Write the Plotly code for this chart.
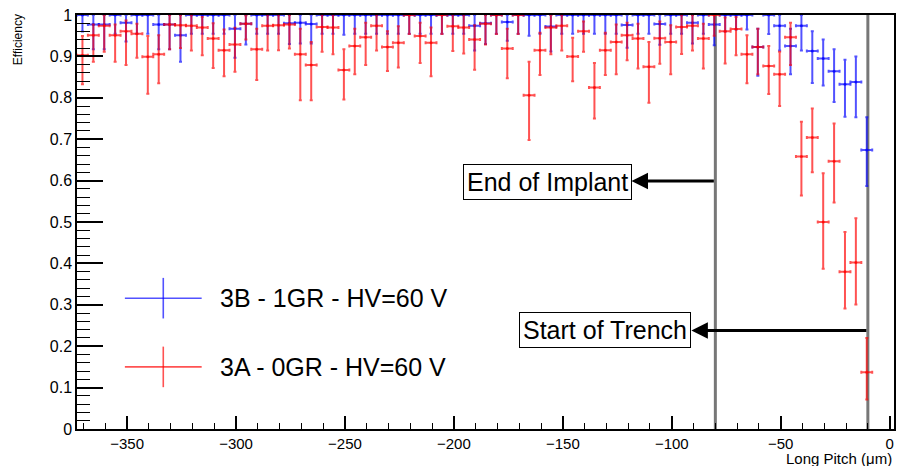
import plotly.graph_objects as go

# ---------------- data ----------------
bin_centers = [-370.5, -365.5, -360.5, -355.5, -350.5, -345.5, -340.5, -335.5, -330.5, -325.5,
               -320.5, -315.5, -310.5, -305.5, -300.5, -295.5, -290.5, -285.5, -280.5, -275.5,
               -270.5, -265.5, -260.5, -255.5, -250.5, -245.5, -240.5, -235.5, -230.5, -225.5,
               -220.5, -215.5, -210.5, -205.5, -200.5, -195.5, -190.5, -185.5, -180.5, -175.5,
               -170.5, -165.5, -160.5, -155.5, -150.5, -145.5, -140.5, -135.5, -130.5, -125.5,
               -120.5, -115.5, -110.5, -105.5, -100.5, -95.5, -90.5, -85.5, -80.5, -75.5,
               -70.5, -65.5, -60.5, -55.5, -50.5, -45.5, -40.5, -35.5, -30.5, -25.5,
               -20.5, -15.5, -10.5]
bin_half_width = 2.5

eff_3B = [1.0, 0.977, 0.977, 1.0, 0.981, 1.0, 1.0, 0.977, 0.977, 0.951,
          1.0, 1.0, 1.0, 1.0, 0.967, 0.979, 1.0, 1.0, 1.0, 0.98,
          0.981, 0.978, 1.0, 1.0, 1.0, 1.0, 1.0, 1.0, 1.0, 1.0,
          1.0, 1.0, 1.0, 1.0, 1.0, 1.0, 0.974, 0.98, 1.0, 0.983,
          1.0, 1.0, 1.0, 0.972, 1.0, 1.0, 1.0, 1.0, 1.0, 1.0,
          0.976, 1.0, 1.0, 0.978, 1.0, 1.0, 0.981, 1.0, 0.977, 1.0,
          1.0, 1.0, 0.923, 1.0, 0.974, 0.925, 0.974, 0.913, 0.895, 0.864,
          0.833, 0.838, 0.674]
err_up_3B = [0.0, 0.023, 0.023, 0.0, 0.019, 0.0, 0.0, 0.023, 0.023, 0.049,
             0.0, 0.0, 0.0, 0.0, 0.033, 0.021, 0.0, 0.0, 0.0, 0.02,
             0.019, 0.022, 0.0, 0.0, 0.0, 0.0, 0.0, 0.0, 0.0, 0.0,
             0.0, 0.0, 0.0, 0.0, 0.0, 0.0, 0.026, 0.02, 0.0, 0.017,
             0.0, 0.0, 0.0, 0.028, 0.0, 0.0, 0.0, 0.0, 0.0, 0.0,
             0.024, 0.0, 0.0, 0.022, 0.0, 0.0, 0.019, 0.0, 0.023, 0.0,
             0.0, 0.0, 0.044, 0.0, 0.026, 0.042, 0.026, 0.048, 0.046, 0.053,
             0.059, 0.062, 0.079]
err_dn_3B = [0.04, 0.06, 0.06, 0.045, 0.045, 0.045, 0.045, 0.06, 0.06, 0.064,
             0.045, 0.045, 0.045, 0.045, 0.07, 0.05, 0.045, 0.045, 0.045, 0.05,
             0.05, 0.047, 0.045, 0.045, 0.048, 0.045, 0.045, 0.045, 0.045, 0.045,
             0.045, 0.045, 0.045, 0.045, 0.045, 0.045, 0.06, 0.05, 0.045, 0.045,
             0.045, 0.05, 0.045, 0.06, 0.045, 0.045, 0.045, 0.045, 0.045, 0.045,
             0.055, 0.045, 0.045, 0.05, 0.045, 0.045, 0.05, 0.045, 0.05, 0.04,
             0.035, 0.035, 0.07, 0.046, 0.06, 0.068, 0.06, 0.077, 0.065, 0.074,
             0.079, 0.085, 0.087]

eff_3A = [0.903, 0.951, 0.974, 0.951, 0.961, 0.955, 0.899, 0.905, 0.977, 0.975,
          0.974, 0.970, 0.943, 0.915, 0.929, 0.979, 0.917, 0.974, 0.975, 0.977,
          0.905, 0.879, 0.971, 0.970, 0.867, 0.925, 0.946, 0.974, 0.923, 0.933,
          1.0, 0.949, 0.933, 1.0, 0.973, 0.970, 0.941, 0.979, 1.0, 0.919,
          1.0, 0.806, 0.915, 0.970, 0.974, 0.900, 0.961, 0.825, 0.915, 0.935,
          0.951, 0.943, 0.875, 0.944, 0.935, 0.971, 0.974, 0.943, 1.0, 0.961,
          0.966, 0.905, 0.923, 0.877, 0.857, 0.946, 0.658, 0.704, 0.500, 0.647,
          0.380, 0.402, 0.137]
err_up_3A = [0.046, 0.026, 0.026, 0.026, 0.026, 0.024, 0.05, 0.046, 0.023, 0.025,
             0.026, 0.025, 0.037, 0.05, 0.04, 0.02, 0.05, 0.026, 0.025, 0.023,
             0.062, 0.056, 0.029, 0.03, 0.05, 0.042, 0.035, 0.026, 0.038, 0.04,
             0.0, 0.032, 0.037, 0.0, 0.027, 0.03, 0.034, 0.021, 0.0, 0.048,
             0.0, 0.081, 0.042, 0.03, 0.026, 0.045, 0.023, 0.059, 0.042, 0.042,
             0.03, 0.036, 0.06, 0.04, 0.04, 0.029, 0.026, 0.036, 0.0, 0.033,
             0.029, 0.046, 0.044, 0.048, 0.054, 0.035, 0.084, 0.07, 0.118, 0.091,
             0.096, 0.107, 0.083]
err_dn_3A = [0.07, 0.064, 0.063, 0.064, 0.082, 0.058, 0.089, 0.07, 0.06, 0.055,
             0.06, 0.067, 0.071, 0.063, 0.066, 0.038, 0.074, 0.06, 0.06, 0.058,
             0.111, 0.085, 0.06, 0.065, 0.071, 0.068, 0.067, 0.06, 0.058, 0.06,
             0.046, 0.065, 0.081, 0.046, 0.06, 0.063, 0.073, 0.05, 0.046, 0.072,
             0.046, 0.108, 0.06, 0.065, 0.06, 0.06, 0.05, 0.075, 0.06, 0.078,
             0.06, 0.072, 0.087, 0.062, 0.078, 0.065, 0.06, 0.072, 0.05, 0.078,
             0.063, 0.07, 0.066, 0.068, 0.077, 0.067, 0.094, 0.084, 0.113, 0.10,
             0.089, 0.101, 0.066]

legend_labels = ["3B - 1GR - HV=60 V", "3A - 0GR - HV=60 V"]
end_of_implant_x = -80
start_of_trench_x = -10

x_range = [-373, 2]
y_range = [0, 1]

BLUE = "rgba(0,0,255,0.68)"
RED = "rgba(255,0,0,0.68)"
FONT = "Liberation Sans, Arial, Helvetica, sans-serif"

fig = go.Figure()

def add_eff(y, up, dn, color, name):
    fig.add_trace(go.Scatter(
        x=bin_centers, y=y, mode="markers", name=name, showlegend=False,
        marker=dict(color=color, size=3, line=dict(width=0)),
        error_x=dict(type="constant", value=bin_half_width, color=color,
                     thickness=2, width=1.5),
        error_y=dict(type="data", symmetric=False, array=up, arrayminus=dn,
                     color=color, thickness=2, width=1.5),
    ))

add_eff(eff_3B, err_up_3B, err_dn_3B, BLUE, legend_labels[0])
add_eff(eff_3A, err_up_3A, err_dn_3A, RED, legend_labels[1])

# vertical reference lines
for xv in (end_of_implant_x, start_of_trench_x):
    fig.add_shape(type="line", xref="x", yref="paper", x0=xv, x1=xv, y0=0, y1=1,
                  line=dict(color="#777777", width=3), layer="below")

# labelled boxes
fig.add_annotation(x=-157.2, y=0.597, xref="x", yref="y", text="End of Implant",
                   showarrow=False, font=dict(family=FONT, size=25, color="black"),
                   bgcolor="white", bordercolor="black", borderwidth=1, borderpad=3)
fig.add_annotation(x=-130.6, y=0.238, xref="x", yref="y", text="Start of Trench",
                   showarrow=False, font=dict(family=FONT, size=25, color="black"),
                   bgcolor="white", bordercolor="black", borderwidth=1, borderpad=3)

# arrows (head at box, tail at reference line)
fig.add_annotation(x=-118.5, y=0.599, xref="x", yref="y", ax=end_of_implant_x, ay=0.599,
                   axref="x", ayref="y", text="", showarrow=True, arrowhead=2,
                   arrowsize=1.1, arrowwidth=3, arrowcolor="black", standoff=0)
fig.add_annotation(x=-91.0, y=0.238, xref="x", yref="y", ax=start_of_trench_x, ay=0.238,
                   axref="x", ayref="y", text="", showarrow=True, arrowhead=2,
                   arrowsize=1.1, arrowwidth=3, arrowcolor="black", standoff=0)

# manual legend
for (yc, col, lab) in ((0.316, BLUE, legend_labels[0]), (0.150, RED, legend_labels[1])):
    fig.add_shape(type="line", xref="paper", yref="paper", x0=0.0586, x1=0.1526,
                  y0=yc, y1=yc, line=dict(color=col, width=1.6))
    fig.add_shape(type="line", xref="paper", yref="paper", x0=0.1056, x1=0.1056,
                  y0=yc - 0.049, y1=yc + 0.049, line=dict(color=col, width=1.6))
    fig.add_annotation(x=0.172, y=yc, xref="paper", yref="paper", text=lab,
                       xanchor="left", yanchor="middle", showarrow=False,
                       font=dict(family=FONT, size=25, color="black"))

# axis titles
fig.add_annotation(x=1.0, y=-0.0715, xref="paper", yref="paper", text="Long Pitch (\u03bcm)",
                   xanchor="right", yanchor="middle", showarrow=False,
                   font=dict(family=FONT, size=15, color="black"))
fig.add_annotation(x=-0.072, y=1.006, xref="paper", yref="paper", text="Efficiency",
                   textangle=-90, xanchor="center", yanchor="top", showarrow=False,
                   font=dict(family=FONT, size=12, color="black"))

fig.update_layout(
    width=898, height=466,
    margin=dict(l=77, r=2, t=15, b=37),
    plot_bgcolor="white", paper_bgcolor="white",
    font=dict(family=FONT, size=16, color="black"),
    showlegend=False,
    xaxis=dict(range=x_range, tick0=0, dtick=50, ticks="inside", ticklen=13,
               tickwidth=1.5, tickcolor="black", showgrid=False, zeroline=False,
               showline=True, linecolor="black", linewidth=1.5, mirror=True,
               tickfont=dict(size=15),
               minor=dict(dtick=10, tick0=0, ticks="inside", ticklen=6,
                          tickwidth=1.2, tickcolor="black", showgrid=False)),
    yaxis=dict(range=y_range, tick0=0, dtick=0.1, ticks="inside", ticklen=26,
               tickwidth=1.5, tickcolor="black", showgrid=False, zeroline=False,
               showline=True, linecolor="black", linewidth=1.5, mirror=True,
               tickfont=dict(size=16),
               minor=dict(dtick=0.02, tick0=0, ticks="inside", ticklen=13,
                          tickwidth=1.2, tickcolor="black", showgrid=False)),
)

fig.write_html("out.html")
